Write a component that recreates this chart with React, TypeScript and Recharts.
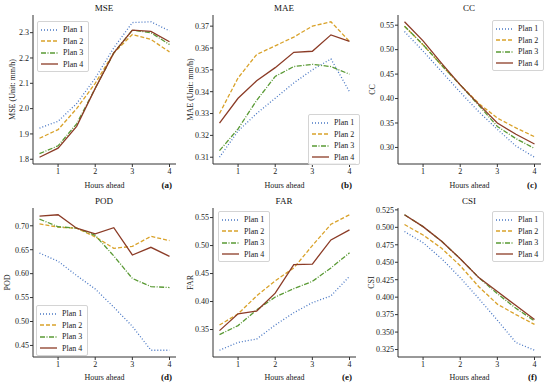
import { LineChart, Line, XAxis, YAxis, Legend, Label } from 'recharts'

const HOURS = [0.5, 1, 1.5, 2, 2.5, 3, 3.5, 4]
const PLANS = ['Plan 1', 'Plan 2', 'Plan 3', 'Plan 4']
const COLORS = ['#4a78c4', '#d9a22a', '#5a9a35', '#8b3b26']
const DASHES = ['1 2', '4 2', '5 1.5 1 1.5', undefined]

const MSE_P1 = [1.923, 1.95, 2.02, 2.12, 2.24, 2.34, 2.343, 2.307]
const MSE_P2 = [1.883, 1.917, 2.0, 2.1, 2.22, 2.293, 2.273, 2.224]
const MSE_P3 = [1.822, 1.853, 1.94, 2.08, 2.22, 2.31, 2.3, 2.253]
const MSE_P4 = [1.808, 1.844, 1.93, 2.08, 2.22, 2.31, 2.305, 2.264]

const MAE_P1 = [0.31, 0.322, 0.33, 0.337, 0.344, 0.35, 0.355, 0.34]
const MAE_P2 = [0.33, 0.3463, 0.357, 0.361, 0.365, 0.37, 0.372, 0.363]
const MAE_P3 = [0.313, 0.323, 0.336, 0.347, 0.3515, 0.3525, 0.3515, 0.348]
const MAE_P4 = [0.3256, 0.337, 0.345, 0.351, 0.358, 0.3585, 0.366, 0.363]

const CC_P1 = [0.537, 0.497, 0.455, 0.413, 0.373, 0.337, 0.303, 0.28]
const CC_P2 = [0.548, 0.51, 0.468, 0.428, 0.39, 0.36, 0.34, 0.322]
const CC_P3 = [0.548, 0.51, 0.468, 0.428, 0.386, 0.343, 0.318, 0.298]
const CC_P4 = [0.557, 0.518, 0.472, 0.428, 0.388, 0.35, 0.327, 0.307]

const POD_P1 = [0.643, 0.626, 0.596, 0.568, 0.53, 0.49, 0.44, 0.44]
const POD_P2 = [0.704, 0.697, 0.695, 0.677, 0.653, 0.657, 0.678, 0.669]
const POD_P3 = [0.714, 0.698, 0.695, 0.68, 0.637, 0.59, 0.573, 0.571]
const POD_P4 = [0.72, 0.723, 0.695, 0.683, 0.696, 0.639, 0.655, 0.636]

const FAR_P1 = [0.313, 0.327, 0.333, 0.358, 0.38, 0.398, 0.41, 0.445]
const FAR_P2 = [0.358, 0.378, 0.41, 0.437, 0.46, 0.5, 0.538, 0.555]
const FAR_P3 = [0.341, 0.357, 0.385, 0.408, 0.423, 0.436, 0.46, 0.487]
const FAR_P4 = [0.348, 0.378, 0.383, 0.415, 0.466, 0.467, 0.51, 0.528]

const CSI_P1 = [0.494, 0.478, 0.455, 0.428, 0.398, 0.367, 0.335, 0.324]
const CSI_P2 = [0.504, 0.489, 0.47, 0.445, 0.415, 0.39, 0.375, 0.361]
const CSI_P3 = [0.518, 0.501, 0.48, 0.455, 0.428, 0.405, 0.384, 0.366]
const CSI_P4 = [0.518, 0.501, 0.48, 0.455, 0.428, 0.408, 0.388, 0.368]

const MSE_TICKS = [1.8, 1.9, 2.0, 2.1, 2.2, 2.3]
const MAE_TICKS = [0.31, 0.32, 0.33, 0.34, 0.35, 0.36, 0.37]
const CC_TICKS = [0.3, 0.35, 0.4, 0.45, 0.5, 0.55]
const POD_TICKS = [0.45, 0.5, 0.55, 0.6, 0.65, 0.7]
const FAR_TICKS = [0.35, 0.4, 0.45, 0.5, 0.55]
const CSI_TICKS = [0.325, 0.35, 0.375, 0.4, 0.425, 0.45, 0.475, 0.5, 0.525]
const X_TICKS = [1, 2, 3, 4]

const FONT = '"Liberation Serif", "Times New Roman", "DejaVu Serif", serif'
const W = 183
const H = 192

type PanelProps = {
  title: string
  letter: string
  yLabel: string
  labelX: number
  series: number[][]
  ticks: number[]
  digits: number
  left: number
  top: number
  marginTop: number
  legendPos: { left: number; top: number }
}

function LegendBox() {
  return (
    <div
      style={{
        border: '1px solid #d4d4d4',
        borderRadius: 2,
        background: 'rgba(255,255,255,0.85)',
        padding: '2px 5px 1px 3px',
        fontFamily: FONT,
        fontSize: 8,
        color: '#222',
        lineHeight: '11.5px',
      }}
    >
      {PLANS.map((p, i) => (
        <div key={p} style={{ display: 'flex', alignItems: 'center' }}>
          <svg width={17} height={8} style={{ marginRight: 5 }}>
            <line x1={0} y1={4} x2={17} y2={4} stroke={COLORS[i]} strokeWidth={1.3} strokeDasharray={DASHES[i]} />
          </svg>
          <span>{p}</span>
        </div>
      ))}
    </div>
  )
}

function Panel({ title, letter, yLabel, labelX, series, ticks, digits, left, top, marginTop, legendPos }: PanelProps) {
  const rows = HOURS.map((h, i) => {
    const r: Record<string, number> = { hour: h }
    series.forEach((s, k) => (r[PLANS[k]] = s[i]))
    return r
  })
  const all = series.flat()
  const lo = Math.min(...all)
  const hi = Math.max(...all)
  const pad = (hi - lo) * 0.05
  const tickStyle = { fontSize: 8, fontFamily: FONT, fill: '#222' }
  const xAxisH = H - marginTop - 149
  return (
    <div style={{ position: 'absolute', left, top, width: W, height: H }}>
      <div
        style={{
          position: 'absolute',
          left: 33,
          width: 142,
          top: marginTop - 12,
          textAlign: 'center',
          fontFamily: FONT,
          fontSize: 9,
          lineHeight: '10px',
          color: '#111',
        }}
      >
        {title}
      </div>
      <LineChart width={W} height={H} data={rows} margin={{ top: marginTop, right: 7, left: 0, bottom: 0 }}>
        <XAxis
          dataKey="hour"
          type="number"
          domain={[0.325, 4.175]}
          ticks={X_TICKS}
          allowDataOverflow
          tickSize={3}
          tickMargin={1}
          height={xAxisH}
          tick={tickStyle}
          stroke="#333"
        >
          <Label value="Hours ahead" position="insideBottom" offset={4} style={{ fontSize: 8, fontFamily: FONT, fill: '#222' }} />
          <Label value={letter} position="insideBottomRight" offset={4} style={{ fontSize: 9, fontWeight: 'bold', fontFamily: FONT, fill: '#111' }} />
        </XAxis>
        <XAxis xAxisId="top" orientation="top" dataKey="hour" type="number" domain={[0.325, 4.175]} tick={false} tickLine={false} height={0} stroke="#333" />
        <YAxis
          type="number"
          domain={[lo - pad, hi + pad]}
          ticks={ticks}
          allowDataOverflow
          width={33}
          tickSize={3}
          tickMargin={1}
          tick={tickStyle}
          tickFormatter={(v: number) => v.toFixed(digits)}
          stroke="#333"
        >
          <Label value={yLabel} angle={-90} position="insideLeft" offset={labelX} style={{ fontSize: 8, fontFamily: FONT, fill: '#222', textAnchor: 'middle' }} />
        </YAxis>
        <YAxis yAxisId="right" orientation="right" tick={false} tickLine={false} width={0} stroke="#333" />
        <Legend
          layout="vertical"
          align="center"
          verticalAlign="middle"
          content={() => <LegendBox />}
          wrapperStyle={{ left: legendPos.left, top: legendPos.top, width: 'auto' }}
        />
        {PLANS.map((p, i) => (
          <Line
            key={p}
            dataKey={p}
            stroke={COLORS[i]}
            strokeWidth={1.3}
            strokeDasharray={DASHES[i]}
            dot={false}
            isAnimationActive={false}
          />
        ))}
      </LineChart>
    </div>
  )
}

export default function App() {
  return (
    <div style={{ position: 'absolute', left: 0, top: 0, width: 550, height: 384, background: '#fff' }}>
      <Panel title="MSE" letter="(a)" yLabel="MSE (Unit: mm/h)" labelX={12} series={[MSE_P1, MSE_P2, MSE_P3, MSE_P4]} ticks={MSE_TICKS} digits={1} left={0} top={0} marginTop={15} legendPos={{ left: 37, top: 21 }} />
      <Panel title="MAE" letter="(b)" yLabel="MAE (Unit: mm/h)" labelX={10} series={[MAE_P1, MAE_P2, MAE_P3, MAE_P4]} ticks={MAE_TICKS} digits={2} left={180} top={0} marginTop={15} legendPos={{ left: 128, top: 114 }} />
      <Panel title="CC" letter="(c)" yLabel="CC" labelX={7} series={[CC_P1, CC_P2, CC_P3, CC_P4]} ticks={CC_TICKS} digits={2} left={365} top={0} marginTop={15} legendPos={{ left: 127, top: 20 }} />
      <Panel title="POD" letter="(d)" yLabel="POD" labelX={7} series={[POD_P1, POD_P2, POD_P3, POD_P4]} ticks={POD_TICKS} digits={2} left={0} top={192} marginTop={16} legendPos={{ left: 36, top: 113 }} />
      <Panel title="FAR" letter="(e)" yLabel="FAR" labelX={10} series={[FAR_P1, FAR_P2, FAR_P3, FAR_P4]} ticks={FAR_TICKS} digits={2} left={180} top={192} marginTop={16} legendPos={{ left: 38, top: 19 }} />
      <Panel title="CSI" letter="(f)" yLabel="CSI" labelX={6} series={[CSI_P1, CSI_P2, CSI_P3, CSI_P4]} ticks={CSI_TICKS} digits={3} left={365} top={192} marginTop={16} legendPos={{ left: 127, top: 19 }} />
    </div>
  )
}
